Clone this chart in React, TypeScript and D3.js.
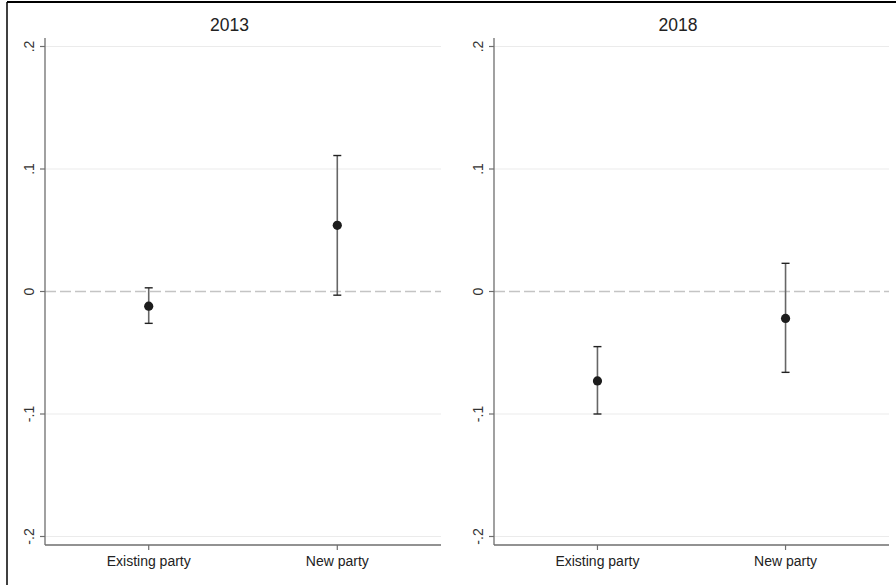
import React from "react";
import * as d3 from "d3";

// Estimates with 95% intervals, by party type and election year
const categories = ["Existing party", "New party"];
const years = ["2013", "2018"];
const estimates2013 = [-0.012, 0.054];
const lower2013 = [-0.026, -0.003];
const upper2013 = [0.003, 0.111];
const estimates2018 = [-0.073, -0.022];
const lower2018 = [-0.1, -0.066];
const upper2018 = [-0.045, 0.023];
const yTickValues = [-0.2, -0.1, 0, 0.1, 0.2];
const yTickLabels = ["-.2", "-.1", "0", ".1", ".2"];

const W = 896;
const H = 585;
const FONT = "'Liberation Sans', Arial, Helvetica, sans-serif";

type PanelData = { title: string; est: number[]; lo: number[]; hi: number[] };

const panels: PanelData[] = [
  { title: years[0], est: estimates2013, lo: lower2013, hi: upper2013 },
  { title: years[1], est: estimates2018, lo: lower2018, hi: upper2018 },
];

const panelLayout = [
  { left: 45, right: 441, titleX: 229.5 },
  { left: 494, right: 889, titleX: 678 },
];
const plotTop = 38;
const plotBottom = 545;

const y = d3.scaleLinear().domain([-0.2, 0.2]).range([536.5, 46.5]);

function Panel({ data, layout }: { data: PanelData; layout: typeof panelLayout[number] }) {
  const x = d3.scaleLinear().domain([0.45, 2.55]).range([layout.left, layout.right]);
  const pos = categories.map((_, i) => x(i + 1));
  return (
    <g>
      <text
        x={layout.titleX}
        y={31}
        textAnchor="middle"
        fontFamily={FONT}
        fontSize={17.5}
        fill="#222"
      >
        {data.title}
      </text>
      {/* horizontal grid */}
      {yTickValues.map((v) =>
        v === 0 ? null : (
          <line
            key={"g" + v}
            x1={layout.left}
            x2={layout.right}
            y1={y(v)}
            y2={y(v)}
            stroke="#ebebeb"
            strokeWidth={1.2}
          />
        )
      )}
      {/* zero reference */}
      <line
        x1={layout.left}
        x2={layout.right}
        y1={y(0)}
        y2={y(0)}
        stroke="#c4c4c4"
        strokeWidth={1.6}
        strokeDasharray="11,4"
      />
      {/* y axis */}
      <line x1={layout.left} x2={layout.left} y1={plotTop} y2={plotBottom} stroke="#6e6e6e" strokeWidth={1.3} />
      {yTickValues.map((v, i) => (
        <g key={"t" + v}>
          <line x1={layout.left - 5} x2={layout.left} y1={y(v)} y2={y(v)} stroke="#6e6e6e" strokeWidth={1.2} />
          <text
            transform={`translate(${layout.left - 11},${y(v)}) rotate(-90)`}
            textAnchor="middle"
            fontFamily={FONT}
            fontSize={14}
            fill="#333"
          >
            {yTickLabels[i]}
          </text>
        </g>
      ))}
      {/* x axis */}
      <line x1={layout.left} x2={layout.right} y1={plotBottom} y2={plotBottom} stroke="#6e6e6e" strokeWidth={1.3} />
      {categories.map((c, i) => (
        <g key={c}>
          <line x1={pos[i]} x2={pos[i]} y1={plotBottom} y2={plotBottom + 5} stroke="#6e6e6e" strokeWidth={1.2} />
          <text x={pos[i]} y={566} textAnchor="middle" fontFamily={FONT} fontSize={14} fill="#222">
            {c}
          </text>
        </g>
      ))}
      {/* intervals and point estimates */}
      {categories.map((c, i) => (
        <g key={"e" + c}>
          <line x1={pos[i]} x2={pos[i]} y1={y(data.hi[i])} y2={y(data.lo[i])} stroke="#666" strokeWidth={1.6} />
          <line x1={pos[i] - 4} x2={pos[i] + 4} y1={y(data.hi[i])} y2={y(data.hi[i])} stroke="#222" strokeWidth={1.4} />
          <line x1={pos[i] - 4} x2={pos[i] + 4} y1={y(data.lo[i])} y2={y(data.lo[i])} stroke="#222" strokeWidth={1.4} />
          <circle cx={pos[i]} cy={y(data.est[i])} r={4.6} fill="#1c1c1c" />
        </g>
      ))}
    </g>
  );
}

export default function App() {
  return (
    <svg
      width={W}
      height={H}
      viewBox={`0 0 ${W} ${H}`}
      style={{ position: "absolute", left: 0, top: 0, display: "block", background: "#fff" }}
    >
      <rect x={0} y={0} width={W} height={H} fill="#fff" />
      <line x1={7} x2={W} y1={2} y2={2} stroke="#000" strokeWidth={1.8} />
      <line x1={7} x2={7} y1={2} y2={H} stroke="#000" strokeWidth={1.5} />
      {panels.map((p, i) => (
        <Panel key={p.title} data={p} layout={panelLayout[i]} />
      ))}
    </svg>
  );
}
